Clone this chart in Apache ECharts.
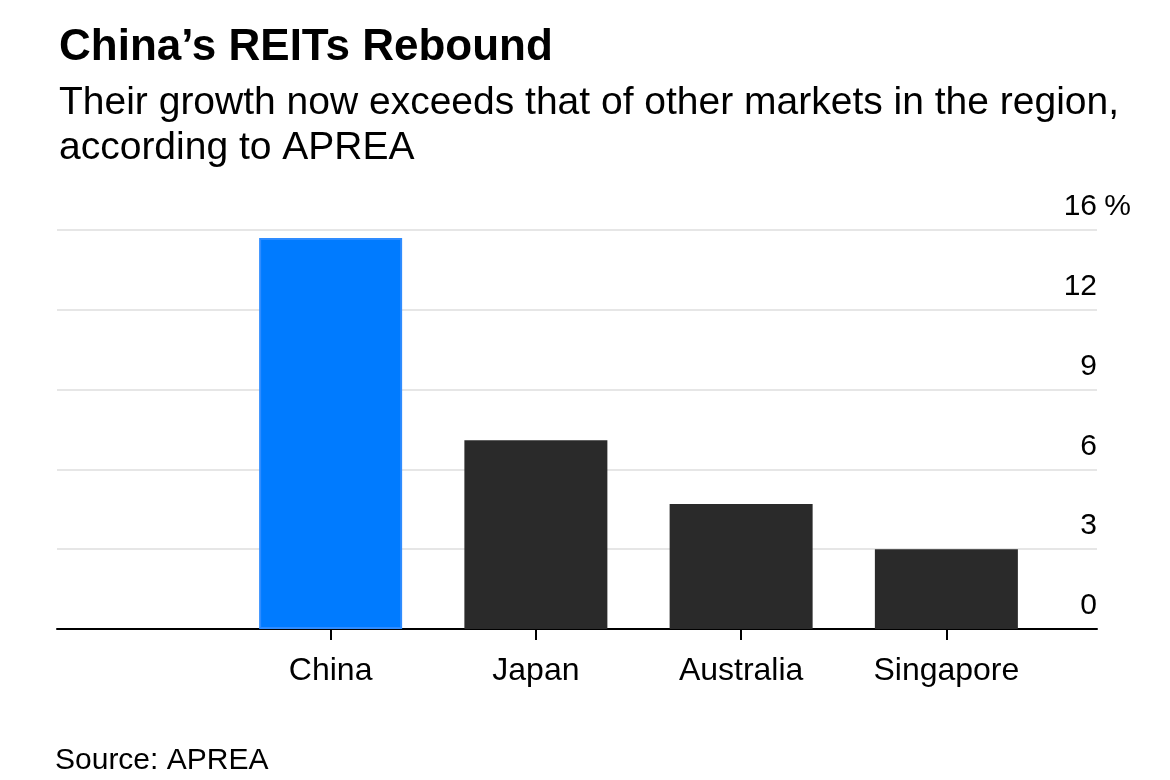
<!DOCTYPE html>
<html>
<head>
<meta charset="utf-8">
<title>China’s REITs Rebound</title>
<script src="https://cdn.jsdelivr.net/npm/echarts@6/dist/echarts.min.js"></script>
<style>
  html, body { margin: 0; padding: 0; background: #fff; }
  #chart-container { width: 1170px; height: 780px; }
</style>
</head>
<body>
<div id="chart-container"></div>
<script>
// 数据
const markets = ['China', 'Japan', 'Australia', 'Singapore'];
const growth = [14.7, 7.1, 4.7, 3.0];
const yTicks = [0, 3, 6, 9, 12, 15];
// 顶部刻度在原图上写作 "16"
const yTickLabels = ['0', '3', '6', '9', '12', '16'];

const FONT = '"Liberation Sans", Arial, Helvetica, sans-serif';

const chart = echarts.init(document.getElementById('chart-container'));

const option = {
  backgroundColor: '#fff',
  animation: false,
  textStyle: { fontFamily: FONT, color: '#000' },
  title: [
    {
      text: 'China’s REITs Rebound',
      left: 54,
      top: 21,
      textStyle: { fontFamily: FONT, fontSize: 44, fontWeight: 'bold', color: '#000', lineHeight: 44 }
    },
    {
      text: 'Their growth now exceeds that of other markets in the region,\naccording to APREA',
      left: 54,
      top: 76,
      textStyle: { fontFamily: FONT, fontSize: 39, fontWeight: 'normal', color: '#000', lineHeight: 45 }
    },
    {
      text: 'Source: APREA',
      left: 50,
      top: 741,
      textStyle: { fontFamily: FONT, fontSize: 30, fontWeight: 'normal', color: '#000', lineHeight: 30 }
    }
  ],
  grid: [
    // 网格线与基线
    { left: 57, right: 73, top: 230, bottom: 151 },
    // 柱子所在区域
    { left: 228, right: 121, top: 230, bottom: 151 }
  ],
  xAxis: [
    {
      gridIndex: 0,
      type: 'category',
      data: [''],
      axisLine: { show: true, lineStyle: { color: '#000', width: 2 } },
      axisTick: { show: false },
      axisLabel: { show: false }
    },
    {
      gridIndex: 1,
      type: 'category',
      data: markets,
      axisLine: { show: false },
      axisTick: { show: true, alignWithLabel: true, length: 11, lineStyle: { color: '#000', width: 2 } },
      axisLabel: { fontFamily: FONT, fontSize: 32, color: '#000', margin: 26 }
    }
  ],
  yAxis: [
    {
      gridIndex: 0,
      type: 'value',
      position: 'right',
      min: 0,
      max: 15,
      interval: 3,
      axisLine: { show: false },
      axisTick: { show: false },
      splitLine: { show: true, lineStyle: { color: '#e6e6e6', width: 2 } },
      axisLabel: {
        align: 'right',
        verticalAlign: 'bottom',
        margin: 34,
        padding: [0, 0, 8, 0],
        formatter: function (value) {
          const idx = yTicks.indexOf(value);
          const txt = idx >= 0 ? yTickLabels[idx] : String(value);
          return value === 15 ? '{n|' + txt + '}{u|%}' : '{n|' + txt + '}{u| }';
        },
        rich: {
          n: { fontFamily: FONT, fontSize: 30, color: '#000' },
          u: { fontFamily: FONT, fontSize: 30, color: '#000', width: 27, padding: [0, 0, 0, 7] }
        }
      }
    },
    {
      gridIndex: 1,
      type: 'value',
      min: 0,
      max: 15,
      interval: 3,
      show: false
    }
  ],
  series: [
    {
      type: 'bar',
      xAxisIndex: 1,
      yAxisIndex: 1,
      barWidth: 143,
      data: growth.map(function (v, i) {
        if (markets[i] === 'China') {
          return { value: v, itemStyle: { color: '#007bff', borderColor: '#2f8cff', borderWidth: 2 } };
        }
        return { value: v, itemStyle: { color: '#2a2a2a' } };
      })
    }
  ]
};

chart.setOption(option);

window.addEventListener('resize', function () {
  chart.resize();
});
</script>
</body>
</html>
